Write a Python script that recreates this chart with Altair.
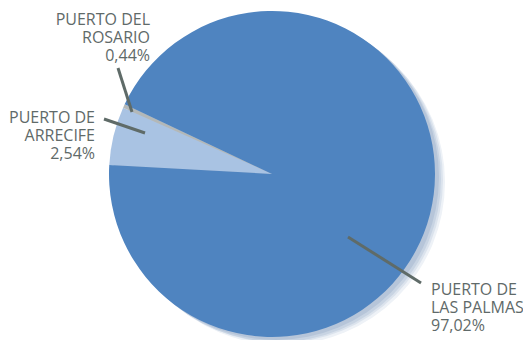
import math
import altair as alt
import pandas as pd

# --- data ---------------------------------------------------------------
ports = ["PUERTO DE ARRECIFE", "PUERTO DEL ROSARIO", "PUERTO DE LAS PALMAS"]
share_text = ["2,54%", "0,44%", "97,02%"]
# shares of the circle as drawn in the reference (wedge angles)
slice_share = [5.78, 0.36, 93.86]
slice_order = [1, 2, 3]
colors = ["#a9c3e3", "#b3b8b8", "#4f84c0"]

label_lines = ["PUERTO DE\nARRECIFE\n2,54%",
               "PUERTO DEL\nROSARIO\n0,44%",
               "PUERTO DE\nLAS PALMAS\n97,02%"]

# --- layout -------------------------------------------------------------
W, H = 515, 332
CX, CY, R = 264, 166, 163
START = math.radians(273.2)

pie_df = pd.DataFrame({"port": ports, "share": slice_share, "order": slice_order,
                       "pct": share_text})

label_df = pd.DataFrame({
    "txt": label_lines,
    "lx": [87, 142, 423],
    "ly": [115, 17, 287],
    "align": ["right", "right", "left"],
})
leader_df = pd.DataFrame({
    "x1": [137, 124, 340], "y1": [125, 104, 229],
    "x2": [96, 110, 413], "y2": [111, 60, 275],
})

dummy = pd.DataFrame({"a": [0]})

def shadow(dx, dy, col):
    return alt.Chart(dummy).mark_arc(color=col, outerRadius=R).encode(
        x=alt.value(CX + dx), y=alt.value(CY + dy),
        theta=alt.value(0), theta2=alt.value(2 * math.pi))

shadows = [shadow(10, 8, "#eef2f7"), shadow(8, 6, "#dbe3ed"),
           shadow(6, 5, "#c8d4e3"), shadow(4, 3, "#b6c5d9")]

pie = alt.Chart(pie_df).mark_arc(outerRadius=R).encode(
    theta=alt.Theta("share:Q", stack=True,
                    scale=alt.Scale(range=[START, START + 2 * math.pi])),
    color=alt.Color("port:N", scale=alt.Scale(domain=ports, range=colors), legend=None),
    order=alt.Order("order:Q"),
    x=alt.value(CX), y=alt.value(CY),
)

leaders = alt.Chart(leader_df).mark_rule(color="#5f6b68", strokeWidth=3).encode(
    x=alt.X("x1:Q", scale=None, axis=None),
    y=alt.Y("y1:Q", scale=None, axis=None),
    x2="x2:Q", y2="y2:Q",
)

def label_layer(align):
    return alt.Chart(label_df).transform_filter(
        alt.datum.align == align
    ).transform_calculate(
        lines="split(datum.txt, '\\n')"
    ).mark_text(align=align, baseline="alphabetic", font="Open Sans", fontSize=16,
                lineHeight=17.8, color="#5f6a69").encode(
        x=alt.X("lx:Q", scale=None, axis=None),
        y=alt.Y("ly:Q", scale=None, axis=None),
        text="lines:N",
    )

chart = alt.layer(*shadows, pie, leaders, label_layer("right"), label_layer("left")).properties(
    width=W, height=H, autosize=alt.AutoSizeParams(type="none"), padding=0
).configure_view(stroke=None)

chart.save("out.html", embed_options={"renderer": "svg", "actions": False})
